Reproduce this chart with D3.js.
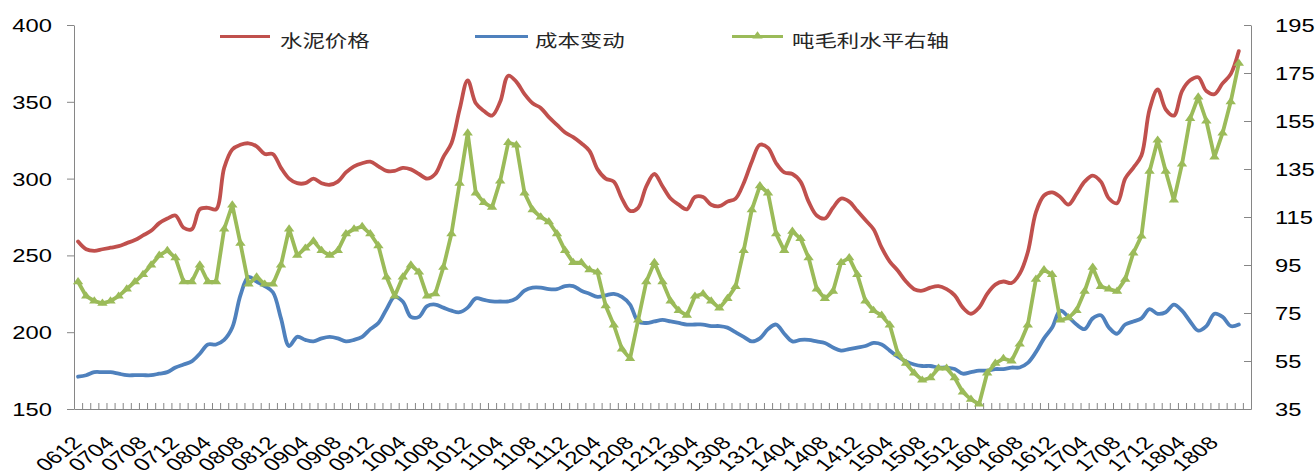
<!DOCTYPE html>
<html>
<head>
<meta charset="utf-8">
<script src="https://cdn.jsdelivr.net/npm/d3@7"></script>
<style>
body{margin:0;background:#fff;}
svg{display:block;}
</style>
</head>
<body>
<div id="chart"></div>
<script>
// months 0612 .. 1811 (one category per month, one empty slot at the end)
var months = [];
for (var k = 0; k < 144; k++) {
    var m = 11 + k;
    var yy = 6 + Math.floor(m / 12), mm = m % 12 + 1;
    months.push((yy < 10 ? "0" : "") + yy + (mm < 10 ? "0" : "") + mm);
}

var tickLabels = ["0612","0704","0708","0712","0804","0808","0812","0904","0908","0912",
    "1004","1008","1012","1104","1108","1112","1204","1208","1212","1304","1308","1312",
    "1404","1408","1412","1504","1508","1512","1604","1608","1612","1704","1708","1712",
    "1804","1808"];

var leftTicks = [150, 200, 250, 300, 350, 400];
var rightTicks = [35, 55, 75, 95, 115, 135, 155, 175, 195];

// 水泥价格 (left axis)
var price = [
    259,254,253,254,255,256,258,260,263,266,271,274,
    276,268,267,280,281,280,307,319,322,323,321,316,
    316,307,300,297,297,300,297,296,298,304,308,310,
    311,308,305,305,307,306,303,300,303,314,323,345,
    364,349,344,341,350,367,363,355,349,346,340,335,
    330,327,323,318,306,300,298,287,279,281,295,303,
    295,287,283,280,288,288,283,282,285,287,297,311,
    322,320,310,304,303,298,285,276,274,281,287,285,
    279,273,267,255,246,240,233,228,227,229,230,228,
    224,216,212,216,225,231,233,232,238,252,278,289,
    291,288,283,290,298,302,298,287,284,300,307,315,
    345,358,345,341,357,364,366,357,355,362,368,383
];

// 成本变动 (left axis)
var cost = [
    171,172,174,174,174,173,172,172,172,172,173,174,
    177,179,181,186,192,192,195,203,224,236,233,230,
    226,209,191,197,195,194,196,197,196,194,195,197,
    202,206,215,223,220,210,210,217,218,216,214,213,
    216,222,221,220,220,220,222,227,229,229,228,228,
    230,230,227,225,223,224,225,223,218,207,206,207,
    208,207,206,205,205,205,204,204,203,200,197,194,
    196,202,205,199,194,195,195,194,193,190,188,189,
    190,191,193,192,188,184,181,179,178,178,177,177,
    176,173,174,175,175,176,176,177,177,180,187,196,
    203,214,210,205,202,209,211,203,199,205,207,209,
    215,212,213,218,214,207,201,204,212,210,204,205
];

// 吨毛利水平 (right axis)
var margin = [
    88,82,80,79,80,82,85,88,91,95,99,101,
    98,88,88,95,88,88,110,120,104,87,90,87,
    87,95,110,99,102,105,101,99,101,108,110,111,
    108,103,90,82,90,95,92,82,83,94,108,129,
    150,125,121,119,130,146,145,125,118,115,113,108,
    101,96,96,93,92,78,70,60,56,72,88,96,
    88,80,76,74,82,83,80,77,81,86,101,118,
    128,125,108,101,109,106,98,85,81,84,96,98,
    91,80,76,74,70,58,54,50,47,48,52,52,
    48,42,39,37,50,54,56,55,62,70,89,93,
    91,72,73,76,84,94,86,85,84,89,100,107,
    134,147,134,122,137,156,165,155,140,150,163,179
];

var W = 1315, H = 474;
var plotL = 74, plotR = 1251, plotT = 25, plotB = 409;
var nCat = 145;
var sx = "scale(1.32,1)";           // the picture is stretched sideways
var axisColor = "#868686";
var numFont = "'Liberation Sans', Arial, sans-serif";
var cjkFont = "'Noto Sans CJK SC', sans-serif";

var svg = d3.select("#chart").append("svg").attr("width", W).attr("height", H);
svg.append("rect").attr("width", W).attr("height", H).attr("fill", "#fff");

var x = d3.scaleLinear().domain([-0.5, nCat - 0.5]).range([plotL, plotR]);
var yL = d3.scaleLinear().domain([150, 400]).range([plotB, plotT]);
var yR = d3.scaleLinear().domain([35, 195]).range([plotB, plotT]);

// axe de gauche
var axL = svg.append("g").attr("transform", "translate(" + plotL + ",0)")
    .call(d3.axisLeft(yL).tickValues(leftTicks).tickSizeInner(7).tickSizeOuter(0));
axL.attr("font-family", numFont).attr("font-size", 18);
axL.select(".domain").attr("stroke", axisColor);
axL.selectAll(".tick line").attr("stroke", axisColor);
axL.selectAll("text").attr("x", 0).attr("dy", "0.36em").attr("fill", "#000")
    .attr("transform", "translate(-22,0) " + sx);

// axe de droite
var axR = svg.append("g").attr("transform", "translate(" + plotR + ",0)")
    .call(d3.axisRight(yR).tickValues(rightTicks).tickSizeInner(-7).tickSizeOuter(0));
axR.attr("font-family", numFont).attr("font-size", 18);
axR.select(".domain").attr("stroke", axisColor);
axR.selectAll(".tick line").attr("stroke", axisColor);
axR.selectAll("text").attr("x", 0).attr("dy", "0.36em").attr("fill", "#000")
    .attr("transform", "translate(24,0) " + sx);

// axe des x : petites graduations entre chaque mois
var axX = svg.append("g").attr("transform", "translate(0," + plotB + ")")
    .call(d3.axisBottom(x).tickValues(d3.range(nCat + 1).map(function(i){ return i - 0.5; }))
        .tickSizeInner(-6).tickSizeOuter(0).tickFormat(""));
axX.select(".domain").attr("stroke", axisColor);
axX.selectAll(".tick line").attr("stroke", axisColor);

svg.append("g").selectAll("text").data(tickLabels).join("text")
    .attr("transform", function(d, i){
        return "translate(" + (x(i * 4) + 5) + ",444) " + sx + " rotate(-45)";
    })
    .attr("text-anchor", "end")
    .attr("font-family", numFont).attr("font-size", 18).attr("fill", "#000")
    .text(function(d){ return d; });

// courbes
var smooth = d3.curveCatmullRom.alpha(0.5);
var linePrice = d3.line().x(function(d, i){ return x(i); }).y(function(d){ return yL(d); }).curve(smooth);
var lineMargin = d3.line().x(function(d, i){ return x(i); }).y(function(d){ return yR(d); });

svg.append("path").datum(price).attr("d", linePrice)
    .attr("fill", "none").attr("stroke", "#C0504D").attr("stroke-width", 3.8)
    .attr("stroke-linejoin", "round").attr("stroke-linecap", "round");
svg.append("path").datum(cost).attr("d", linePrice)
    .attr("fill", "none").attr("stroke", "#4F81BD").attr("stroke-width", 3.8)
    .attr("stroke-linejoin", "round").attr("stroke-linecap", "round");
svg.append("path").datum(margin).attr("d", lineMargin)
    .attr("fill", "none").attr("stroke", "#9BBB59").attr("stroke-width", 3.8)
    .attr("stroke-linejoin", "round").attr("stroke-linecap", "round");

var tri = d3.symbol().type(d3.symbolTriangle).size(30);
svg.append("g").selectAll("path").data(margin).join("path")
    .attr("d", tri)
    .attr("transform", function(d, i){ return "translate(" + x(i) + "," + yR(d) + ") scale(1.25,1)"; })
    .attr("fill", "#9BBB59");

// légende
var legend = [
    {name: "水泥价格", color: "#C0504D", x1: 220, x2: 270, tx: 280, marker: false},
    {name: "成本变动", color: "#4F81BD", x1: 475, x2: 528, tx: 535, marker: false},
    {name: "吨毛利水平右轴", color: "#9BBB59", x1: 732, x2: 783, tx: 792, marker: true}
];
var lg = svg.append("g");
legend.forEach(function(l){
    lg.append("line").attr("x1", l.x1).attr("x2", l.x2).attr("y1", 36.5).attr("y2", 36.5)
        .attr("stroke", l.color).attr("stroke-width", 3.2);
    if (l.marker) {
        lg.append("path").attr("d", tri)
            .attr("transform", "translate(" + ((l.x1 + l.x2) / 2) + ",36) scale(1.25,1)")
            .attr("fill", l.color);
    }
    lg.append("text").attr("transform", "translate(" + l.tx + ",46.5) " + sx)
        .attr("font-family", cjkFont).attr("font-size", 17).attr("fill", "#262626")
        .text(l.name);
});
</script>
</body>
</html>
